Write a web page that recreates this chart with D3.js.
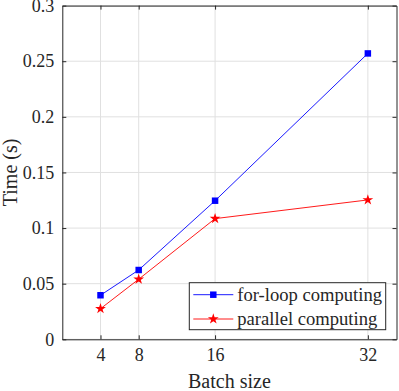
<!DOCTYPE html>
<html>
<head>
<meta charset="utf-8">
<script src="https://cdn.jsdelivr.net/npm/d3@7"></script>
<style>
  body { margin: 0; background: #fff; }
</style>
</head>
<body>
<script>
// data
var batchSizes = [4, 8, 16, 32];
var forLoopTimes = [0.0396, 0.0623, 0.1246, 0.257];
var parallelTimes = [0.0275, 0.054, 0.1085, 0.1253];
var xTicks = [4, 8, 16, 32];
var yTicks = [0, 0.05, 0.1, 0.15, 0.2, 0.25, 0.3];
var seriesNames = ["for-loop computing", "parallel computing"];

var serif = "'Liberation Serif', 'Times New Roman', serif";

// dimensions
var margin = {top: 5.6, right: 2.5, bottom: 51.7, left: 62.3},
    width = 399 - margin.left - margin.right,
    height = 391 - margin.top - margin.bottom;

var x = d3.scaleLinear().domain([0, 35]).range([0, width]);
var y = d3.scaleLinear().domain([0, 0.3]).range([height, 0]);

var svg = d3.select("body").append("svg")
    .attr("width", 399)
    .attr("height", 391)
    .attr("font-family", serif)
  .append("g")
    .attr("transform", "translate(" + margin.left + "," + margin.top + ")");

// grid
svg.append("g")
    .selectAll("line")
    .data(xTicks)
  .enter().append("line")
    .attr("x1", function(d) { return x(d); })
    .attr("x2", function(d) { return x(d); })
    .attr("y1", 0).attr("y2", height)
    .attr("stroke", "#e0e0e0").attr("stroke-width", 1);
svg.append("g")
    .selectAll("line")
    .data(yTicks)
  .enter().append("line")
    .attr("x1", 0).attr("x2", width)
    .attr("y1", function(d) { return y(d); })
    .attr("y2", function(d) { return y(d); })
    .attr("stroke", "#e0e0e0").attr("stroke-width", 1);

// axes (ticks pointing inward, box all round)
function styleAxis(g) {
  g.attr("font-family", serif).attr("font-size", 18);
  g.select(".domain").attr("stroke", "#262626");
  g.selectAll(".tick line").attr("stroke", "#262626");
  g.selectAll(".tick text").attr("fill", "#262626");
}

svg.append("g")
    .attr("transform", "translate(0," + height + ")")
    .call(d3.axisBottom(x).tickValues(xTicks).tickSize(-4).tickSizeOuter(0).tickPadding(9))
    .call(styleAxis);
svg.append("g")
    .call(d3.axisTop(x).tickValues(xTicks).tickSize(-4).tickSizeOuter(0).tickFormat(""))
    .call(styleAxis);
svg.append("g")
    .call(d3.axisLeft(y).tickValues(yTicks).tickSize(-4).tickSizeOuter(0).tickPadding(8).tickFormat(d3.format("")))
    .call(styleAxis);
svg.append("g")
    .attr("transform", "translate(" + width + ",0)")
    .call(d3.axisRight(y).tickValues(yTicks).tickSize(-4).tickSizeOuter(0).tickFormat(""))
    .call(styleAxis);

// lines
var line = d3.line()
    .x(function(d) { return x(d[0]); })
    .y(function(d) { return y(d[1]); });

var forData = batchSizes.map(function(b, i) { return [b, forLoopTimes[i]]; });
var parData = batchSizes.map(function(b, i) { return [b, parallelTimes[i]]; });

svg.append("path").datum(forData)
    .attr("d", line).attr("fill", "none")
    .attr("stroke", "#0000ff").attr("stroke-width", 0.9);
svg.append("path").datum(parData)
    .attr("d", line).attr("fill", "none")
    .attr("stroke", "#ff0000").attr("stroke-width", 0.9);

var square = d3.symbol().type(d3.symbolSquare).size(42);
var star = d3.symbol().type(d3.symbolStar).size(36);

svg.selectAll(".sq")
    .data(forData)
  .enter().append("path")
    .attr("d", square)
    .attr("transform", function(d) { return "translate(" + x(d[0]) + "," + y(d[1]) + ")"; })
    .attr("fill", "#0000ff");
svg.selectAll(".st")
    .data(parData)
  .enter().append("path")
    .attr("d", star)
    .attr("transform", function(d) { return "translate(" + x(d[0]) + "," + y(d[1]) + ")"; })
    .attr("fill", "#ff0000");

// axis labels
svg.append("text")
    .attr("x", width / 2)
    .attr("y", height + 49)
    .attr("text-anchor", "middle")
    .attr("font-size", 20)
    .attr("fill", "#262626")
    .text("Batch size");

svg.append("text")
    .attr("transform", "translate(" + (16.5 - margin.left) + "," + (height / 2) + ") rotate(-90)")
    .attr("text-anchor", "middle")
    .attr("font-size", 20)
    .attr("fill", "#262626")
    .text("Time (s)");

// legend
var lg = svg.append("g")
    .attr("transform", "translate(" + (189.3 - margin.left) + "," + (282.7 - margin.top) + ")");
lg.append("rect")
    .attr("width", 196.4).attr("height", 47)
    .attr("fill", "#fff").attr("stroke", "#262626").attr("stroke-width", 1);

var legendColors = ["#0000ff", "#ff0000"];
var legendShapes = [square, star];
seriesNames.forEach(function(name, i) {
  var cy = 12 + i * 24.3;
  lg.append("line")
      .attr("x1", 4).attr("x2", 44)
      .attr("y1", cy).attr("y2", cy)
      .attr("stroke", legendColors[i]).attr("stroke-width", 0.9);
  lg.append("path")
      .attr("d", legendShapes[i])
      .attr("transform", "translate(24," + cy + ")")
      .attr("fill", legendColors[i]);
  lg.append("text")
      .attr("x", 48)
      .attr("y", cy + 6)
      .attr("font-size", 18.6)
      .attr("fill", "#262626")
      .text(name);
});
</script>
</body>
</html>
